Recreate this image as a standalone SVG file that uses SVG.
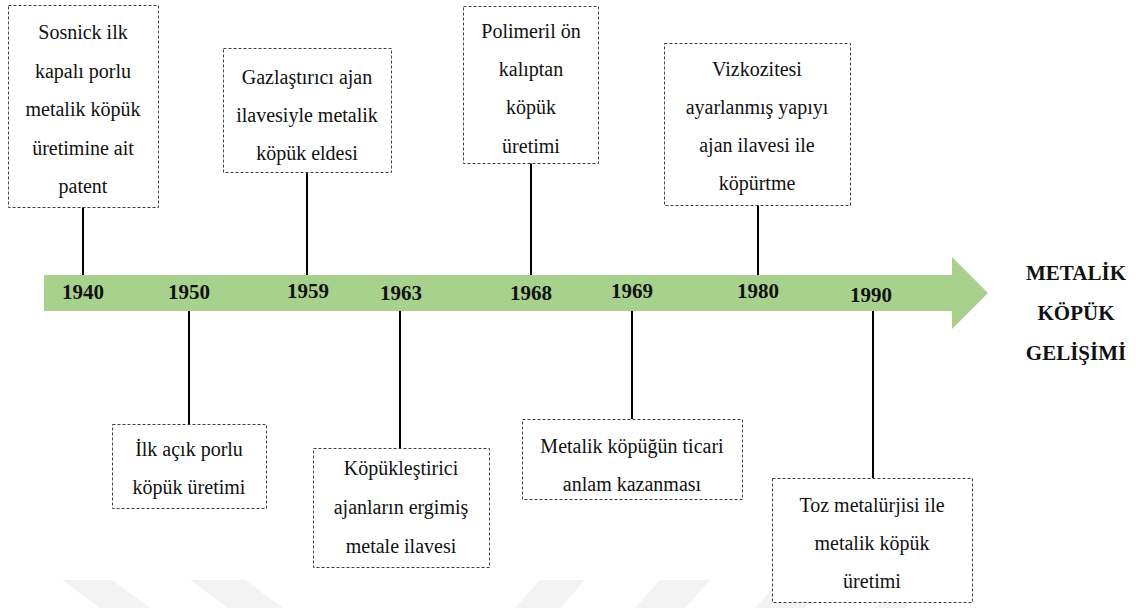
<svg xmlns="http://www.w3.org/2000/svg" width="1136" height="608" viewBox="0 0 1136 608">
<style>
.box{fill:#ffffff;stroke:#404040;stroke-width:1;stroke-dasharray:3,2}
.t{font-size:20px}
.yr{font-size:21px;font-weight:bold}
.ttl{font-size:21px;font-weight:bold}
.c{stroke:#000;stroke-width:2;fill:none}
.wm{fill:#f3f3f3}
</style>
<rect width="1136" height="608" fill="#ffffff"/>
<g id="watermark">
<polygon class="wm" points="62,580 112,580 150,608 100,608"/>
<polygon class="wm" points="190,580 245,580 283,608 228,608"/>
<polygon class="wm" points="540,580 585,580 560,608 515,608"/>
<polygon class="wm" points="660,580 710,580 685,608 635,608"/>
<polygon class="wm" points="780,580 830,580 805,608 755,608"/>
<polygon class="wm" points="900,580 930,580 905,608 875,608"/>
</g>
<g id="timeline-arrow">
<polygon points="44,275 952,275 952,257 988,293 952,329 952,311 44,311" fill="#a9d18e"/>
</g>
<g id="connectors">
<line class="c" x1="83" y1="207" x2="83" y2="275"/>
<line class="c" x1="307" y1="172" x2="307" y2="275"/>
<line class="c" x1="531" y1="163" x2="531" y2="275"/>
<line class="c" x1="758" y1="205" x2="758" y2="275"/>
<line class="c" x1="189" y1="311" x2="189" y2="424"/>
<line class="c" x1="400" y1="311" x2="400" y2="448"/>
<line class="c" x1="632" y1="311" x2="632" y2="419"/>
<line class="c" x1="873" y1="311" x2="873" y2="478"/>
</g>
<g font-family="Liberation Serif, Times New Roman, serif" fill="#111" text-anchor="middle">
<g id="years">
<text class="yr" x="83" y="299">1940</text>
<text class="yr" x="189" y="299">1950</text>
<text class="yr" x="308" y="298">1959</text>
<text class="yr" x="401" y="300">1963</text>
<text class="yr" x="531" y="300">1968</text>
<text class="yr" x="632" y="298">1969</text>
<text class="yr" x="758" y="298">1980</text>
<text class="yr" x="871" y="302">1990</text>
</g>
<g id="n1940">
<rect class="box" x="8.5" y="5.5" width="150" height="202"/>
<text class="t" x="83" y="39">Sosnick ilk</text>
<text class="t" x="83" y="77.5">kapalı porlu</text>
<text class="t" x="83" y="116">metalik köpük</text>
<text class="t" x="83" y="154.5">üretimine ait</text>
<text class="t" x="83" y="193">patent</text>
</g>
<g id="n1959">
<rect class="box" x="223.5" y="48.5" width="168" height="124"/>
<text class="t" x="307" y="84">Gazlaştırıcı ajan</text>
<text class="t" x="307" y="122">ilavesiyle metalik</text>
<text class="t" x="307" y="160">köpük eldesi</text>
</g>
<g id="n1968">
<rect class="box" x="463.5" y="6.5" width="135" height="157"/>
<text class="t" x="531" y="38">Polimeril ön</text>
<text class="t" x="531" y="76">kalıptan</text>
<text class="t" x="531" y="114">köpük</text>
<text class="t" x="531" y="153">üretimi</text>
</g>
<g id="n1980">
<rect class="box" x="664.5" y="43.5" width="186" height="162"/>
<text class="t" x="757" y="76">Vizkozitesi</text>
<text class="t" x="757" y="114">ayarlanmış yapıyı</text>
<text class="t" x="757" y="152">ajan ilavesi ile</text>
<text class="t" x="757" y="190">köpürtme</text>
</g>
<g id="n1950">
<rect class="box" x="112.5" y="424.5" width="154" height="84"/>
<text class="t" x="189" y="456">İlk açık porlu</text>
<text class="t" x="189" y="494">köpük üretimi</text>
</g>
<g id="n1963">
<rect class="box" x="313.5" y="448.5" width="176" height="119"/>
<text class="t" x="401" y="475">Köpükleştirici</text>
<text class="t" x="401" y="514">ajanların ergimiş</text>
<text class="t" x="401" y="553">metale ilavesi</text>
</g>
<g id="n1969">
<rect class="box" x="522.5" y="419.5" width="220" height="80"/>
<text class="t" x="632" y="453">Metalik köpüğün ticari</text>
<text class="t" x="632" y="491">anlam kazanması</text>
</g>
<g id="n1990">
<rect class="box" x="772.5" y="478.5" width="200" height="124"/>
<text class="t" x="872" y="512">Toz metalürjisi ile</text>
<text class="t" x="872" y="550">metalik köpük</text>
<text class="t" x="872" y="588">üretimi</text>
</g>
<g id="title">
<text class="ttl" x="1076" y="280">METALİK</text>
<text class="ttl" x="1076" y="320">KÖPÜK</text>
<text class="ttl" x="1076" y="360">GELİŞİMİ</text>
</g>
</g>
</svg>
